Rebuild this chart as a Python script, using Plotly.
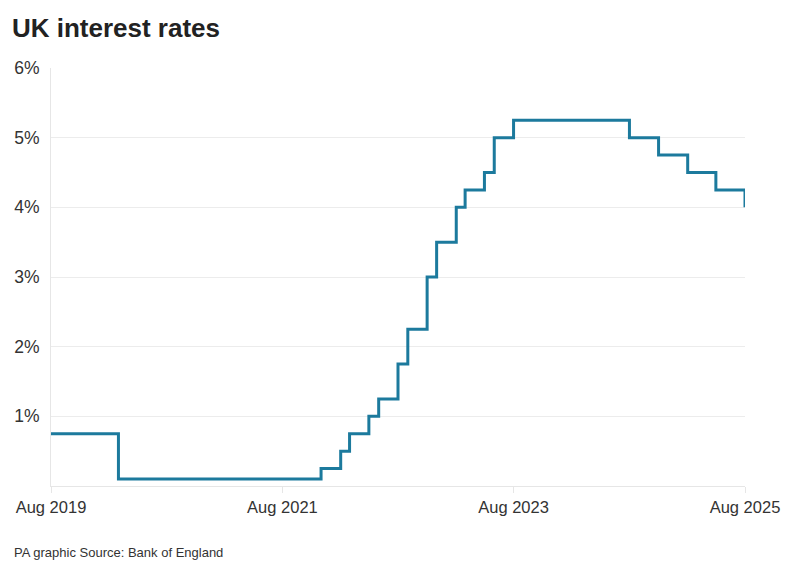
import plotly.graph_objects as go

dates = ["2019-08-01", "2020-03-01", "2021-12-01", "2022-02-01",
         "2022-03-01", "2022-05-01", "2022-06-01", "2022-08-01", "2022-09-01",
         "2022-11-01", "2022-12-01", "2023-02-01", "2023-03-01", "2023-05-01",
         "2023-06-01", "2023-08-01", "2024-08-01", "2024-11-01", "2025-02-01",
         "2025-05-01", "2025-08-01"]
rates = [0.75, 0.1, 0.25, 0.5,
         0.75, 1.0, 1.25, 1.75, 2.25,
         3.0, 3.5, 4.0, 4.25, 4.5,
         5.0, 5.25, 5.0, 4.75, 4.5,
         4.25, 4.0]

x_tickvals = ["2019-08-01", "2021-08-01", "2023-08-01", "2025-08-01"]
x_ticktext = ["Aug 2019", "Aug 2021", "Aug 2023", "Aug 2025"]
y_tickvals = [1, 2, 3, 4, 5, 6]
y_ticktext = ["1%", "2%", "3%", "4%", "5%", "6%"]

fig = go.Figure()
fig.add_trace(go.Scatter(
    x=dates, y=rates, mode="lines", line_shape="hv",
    line=dict(color="#1c7a9d", width=3), hoverinfo="skip", showlegend=False,
))

fig.update_layout(
    width=793, height=572,
    margin=dict(l=43, r=56, t=60, b=94),
    paper_bgcolor="white", plot_bgcolor="white",
    font=dict(family="Liberation Sans, Arial, sans-serif", color="#333333"),
    title=dict(text="<b>UK interest rates</b>", x=0.005, xanchor="left",
               y=0.965, yanchor="middle",
               font=dict(size=26, color="#222222")),
    xaxis=dict(
        type="date", range=["2019-08-01", "2025-08-01"],
        tickvals=x_tickvals, ticktext=x_ticktext, automargin=False,
        showgrid=False, zeroline=False,
        showline=True, linecolor="#e6e6e6", linewidth=1,
        ticks="outside", ticklen=6, tickcolor="#e6e6e6",
        tickfont=dict(size=16.5, color="#333333"),
    ),
    yaxis=dict(
        range=[0, 6], tickvals=y_tickvals, ticktext=y_ticktext, automargin=False,
        showgrid=True, gridcolor="#ececec", gridwidth=1,
        zeroline=False, showline=True, linecolor="#e6e6e6",
        ticks="", ticklabelstandoff=7,
        tickfont=dict(size=17.5, color="#333333"),
    ),
    annotations=[dict(
        text="PA graphic Source: Bank of England", xref="paper", yref="paper",
        x=-0.0562, y=-0.160, xanchor="left", yanchor="middle", showarrow=False,
        font=dict(size=13, color="#333333"),
    )],
)

fig.write_html("out.html")
